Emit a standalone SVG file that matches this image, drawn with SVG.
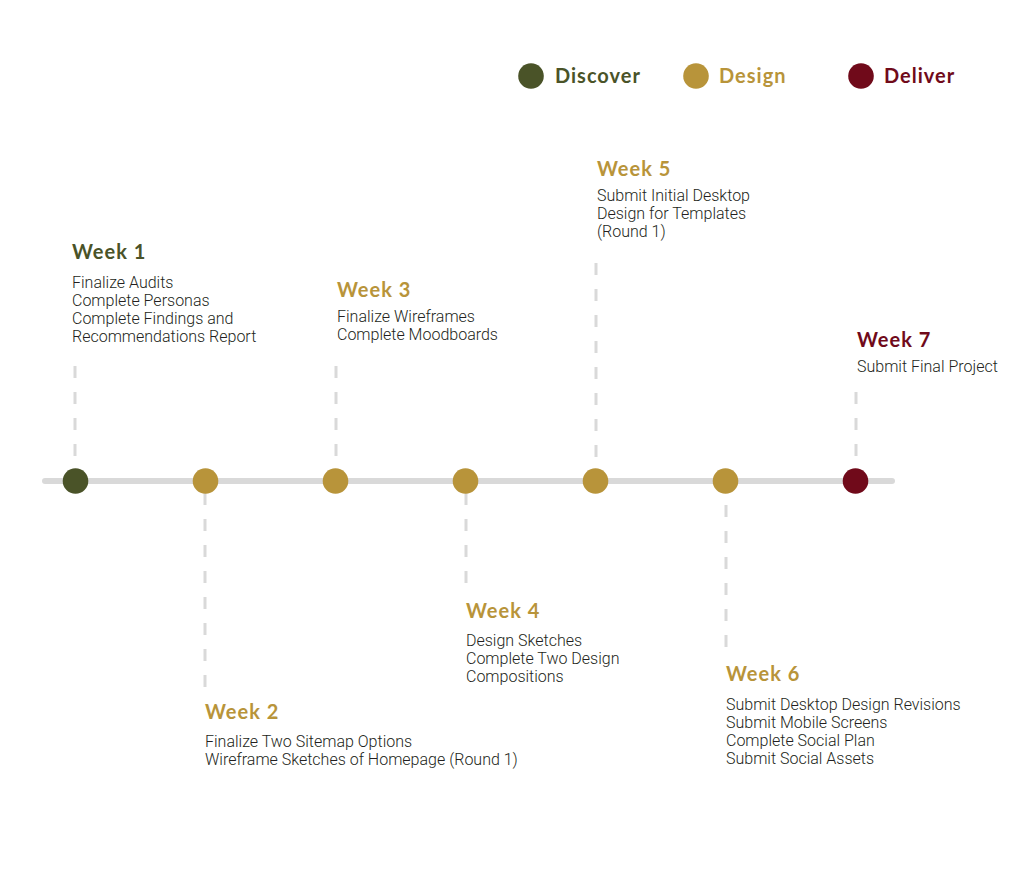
<svg xmlns="http://www.w3.org/2000/svg" width="1015" height="874" viewBox="0 0 1015 874">
<style>
.h{font-family:Lato,"Noto Sans",sans-serif;font-weight:700;font-size:20px;letter-spacing:1px}
.b{font-family:Roboto,"Liberation Sans",sans-serif;font-weight:300;font-size:16px;fill:#231f20}
.disc{fill:#4a5328}
.des{fill:#b8943a}
.del{fill:#700a1a}
.dash{stroke:#d9d9d9;stroke-width:3;stroke-dasharray:12 14;fill:none}
</style>
<rect width="1015" height="874" fill="#ffffff"/>
<g id="legend">
<circle class="disc" cx="531" cy="76" r="12.8"/>
<text class="h disc" x="555" y="83">Discover</text>
<circle class="des" cx="696" cy="76" r="12.8"/>
<text class="h des" x="719" y="83">Design</text>
<circle class="del" cx="861" cy="76" r="12.8"/>
<text class="h del" x="884" y="83">Deliver</text>
</g>
<g id="connectors">
<line x1="45" y1="481" x2="892" y2="481" stroke="#d9d9d9" stroke-width="6" stroke-linecap="round"/>
<line class="dash" x1="75" y1="366" x2="75" y2="458"/>
<line class="dash" x1="336" y1="366" x2="336" y2="458"/>
<line class="dash" x1="596" y1="263" x2="596" y2="458"/>
<line class="dash" x1="856" y1="392" x2="856" y2="458"/>
<line class="dash" x1="205" y1="493" x2="205" y2="688"/>
<line class="dash" x1="466" y1="493" x2="466" y2="585"/>
<line class="dash" x1="726" y1="505" x2="726" y2="648"/>
</g>
<g id="week1">
<circle class="disc" cx="75.5" cy="481" r="12.8"/>
<text class="h disc" x="72" y="259">Week 1</text>
<text class="b" x="72" y="288">Finalize Audits</text>
<text class="b" x="72" y="306">Complete Personas</text>
<text class="b" x="72" y="324">Complete Findings and</text>
<text class="b" x="72" y="342">Recommendations Report</text>
</g>
<g id="week2">
<circle class="des" cx="205.5" cy="481" r="12.8"/>
<text class="h des" x="205" y="719">Week 2</text>
<text class="b" x="205" y="747">Finalize Two Sitemap Options</text>
<text class="b" x="205" y="765">Wireframe Sketches of Homepage (Round 1)</text>
</g>
<g id="week3">
<circle class="des" cx="335.5" cy="481" r="12.8"/>
<text class="h des" x="337" y="297">Week 3</text>
<text class="b" x="337" y="322">Finalize Wireframes</text>
<text class="b" x="337" y="340">Complete Moodboards</text>
</g>
<g id="week4">
<circle class="des" cx="465.5" cy="481" r="12.8"/>
<text class="h des" x="466" y="618">Week 4</text>
<text class="b" x="466" y="646">Design Sketches</text>
<text class="b" x="466" y="664">Complete Two Design</text>
<text class="b" x="466" y="682">Compositions</text>
</g>
<g id="week5">
<circle class="des" cx="595.5" cy="481" r="12.8"/>
<text class="h des" x="597" y="176">Week 5</text>
<text class="b" x="597" y="201">Submit Initial Desktop</text>
<text class="b" x="597" y="219">Design for Templates</text>
<text class="b" x="597" y="237">(Round 1)</text>
</g>
<g id="week6">
<circle class="des" cx="725.5" cy="481" r="12.8"/>
<text class="h des" x="726" y="681">Week 6</text>
<text class="b" x="726" y="710">Submit Desktop Design Revisions</text>
<text class="b" x="726" y="728">Submit Mobile Screens</text>
<text class="b" x="726" y="746">Complete Social Plan</text>
<text class="b" x="726" y="764">Submit Social Assets</text>
</g>
<g id="week7">
<circle class="del" cx="855.5" cy="481" r="12.8"/>
<text class="h del" x="857" y="347">Week 7</text>
<text class="b" x="857" y="372">Submit Final Project</text>
</g>
</svg>
